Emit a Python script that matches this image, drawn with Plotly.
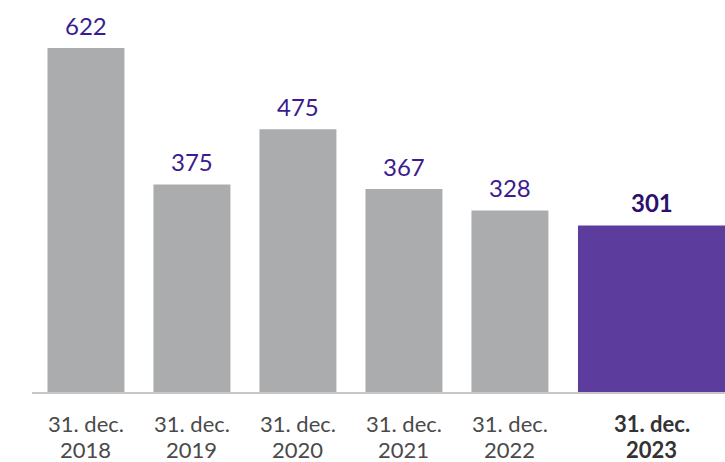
import plotly.graph_objects as go

categories = ["31. dec. 2018", "31. dec. 2019", "31. dec. 2020", "31. dec. 2021", "31. dec. 2022", "31. dec. 2023"]
tick_line1 = ["31. dec.", "31. dec.", "31. dec.", "31. dec.", "31. dec.", "31. dec."]
tick_line2 = ["2018", "2019", "2020", "2021", "2022", "2023"]
values = [622, 375, 475, 367, 328, 301]

GREY = "#ABACAE"
PURPLE = "#5C3D9E"
n = len(values)
colors = [GREY] * (n - 1) + [PURPLE]
widths = [0.726] * (n - 1) + [1.5]
offsets = [-0.363] * (n - 1) + [-0.358]
last_shift = 36  # pixel shift of the highlighted (wider) bar's centre

FONT = "Lato"

fig = go.Figure()
fig.add_trace(go.Bar(
    x=categories,
    y=values,
    marker=dict(color=colors, line=dict(width=0)),
    width=widths,
    offset=offsets,
    hoverinfo="x+y",
))

for i, (c, v) in enumerate(zip(categories, values)):
    last = i == n - 1
    xs = last_shift if last else 0
    fig.add_annotation(
        x=c, y=v, xref="x", yref="y", yanchor="middle", yshift=23, xshift=xs,
        text=f"<b>{v}</b>" if last else str(v), showarrow=False,
        font=dict(family=FONT, size=24, color="#2D0F6E" if last else "#3B1B8F"),
    )
    for line, ys in ((tick_line1[i], -31), (tick_line2[i], -57)):
        fig.add_annotation(
            x=c, y=0, xref="x", yref="y", yanchor="middle", yshift=ys, xshift=xs,
            text=f"<b>{line}</b>" if last else line, showarrow=False,
            font=dict(family=FONT, size=22, color="#333333" if last else "#4A4A4A"),
        )

fig.update_layout(
    width=725, height=462,
    margin=dict(l=32, r=0, t=0, b=70),
    paper_bgcolor="white", plot_bgcolor="white",
    showlegend=False,
    xaxis=dict(
        type="category", range=[-0.509, 6.029], showticklabels=False,
        showline=True, linecolor="#C8C8C8", linewidth=1.5, ticks="", showgrid=False,
        zeroline=False,
    ),
    yaxis=dict(range=[0, 708.8], visible=False, showgrid=False, zeroline=False),
)

fig.write_html(
    "out.html",
    config={"displayModeBar": False},
    post_script="document.body.style.margin='0';document.body.style.overflow='hidden';",
)
